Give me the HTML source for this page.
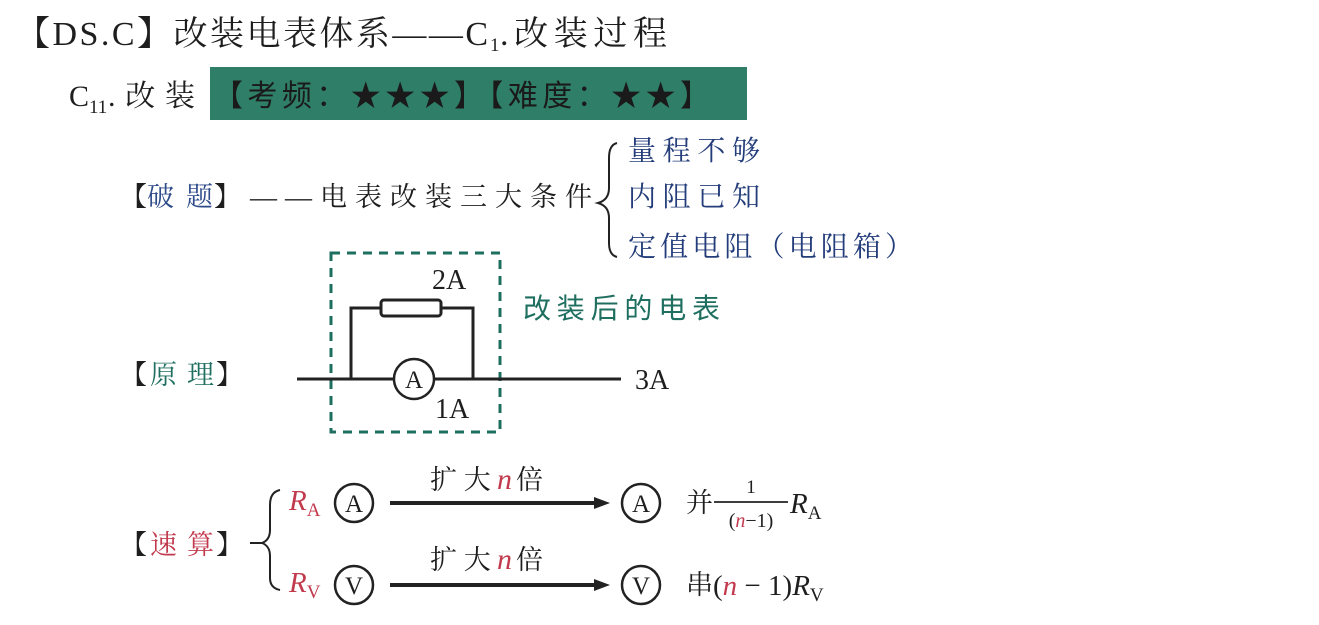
<!DOCTYPE html>
<html><head><meta charset="utf-8">
<style>
html,body{margin:0;padding:0;background:#fff;}
svg{display:block;}
text{font-family:"Liberation Serif","Noto Serif CJK SC","Noto Sans CJK SC",serif;}
.k{font-family:"Liberation Serif","Noto Sans CJK SC",sans-serif;}
</style></head><body>
<svg width="1319" height="625" viewBox="0 0 1319 625" xmlns="http://www.w3.org/2000/svg">
<rect width="1319" height="625" fill="#fff"/>
<g font-size="34" fill="#1e1e1e" class="k">
<text x="16" y="45" textLength="472" lengthAdjust="spacing">【DS.C】改装电表体系——C</text>
<text x="490" y="51" font-size="19">1</text>
<text x="500" y="45" textLength="167" lengthAdjust="spacing">.改装过程</text>
</g>
<g font-size="30" fill="#1e1e1e" class="k">
<text x="69" y="106">C</text>
<text x="89" y="113" font-size="19">11</text>
<text x="108" y="106" textLength="87" lengthAdjust="spacing">.改装</text>
</g>
<rect x="210" y="67" width="537" height="53" fill="#2f7f68"/>
<text x="213" y="106" font-size="30" fill="#1a1a1a" class="k" textLength="497" lengthAdjust="spacing">【考频：★★★】【难度：★★】</text>
<g font-size="27" class="k">
<text x="120" y="206" fill="#1e1e1e">【</text>
<text x="147" y="206" fill="#2d4a8a" textLength="66" lengthAdjust="spacing">破题</text>
<text x="214" y="206" fill="#1e1e1e">】</text>
<text x="250" y="206" fill="#1e1e1e" textLength="342" lengthAdjust="spacing">——电表改装三大条件</text>
</g>
<path d="M617 143 Q609 145 609 158 L609 188 Q609 200 598 203 Q609 206 609 218 L609 243 Q609 255 617 257" fill="none" stroke="#222" stroke-width="2"/>
<g font-size="28" fill="#233c7a" class="k">
<text x="628" y="160" textLength="132" lengthAdjust="spacing">量程不够</text>
<text x="628" y="206" textLength="132" lengthAdjust="spacing">内阻已知</text>
<text x="628" y="256" textLength="285" lengthAdjust="spacing">定值电阻（电阻箱）</text>
</g>
<g font-size="27" class="k">
<text x="120" y="384" fill="#1e1e1e">【</text>
<text x="150" y="384" fill="#1f6f60" textLength="64" lengthAdjust="spacing">原理</text>
<text x="216" y="384" fill="#1e1e1e">】</text>
</g>
<rect x="331" y="253" width="169" height="179" fill="none" stroke="#1f6f60" stroke-width="3" stroke-dasharray="9,7"/>
<g stroke="#222" stroke-width="3" fill="none">
<line x1="297" y1="379" x2="394" y2="379"/>
<line x1="434" y1="379" x2="621" y2="379"/>
<polyline points="351,379 351,308 381,308"/>
<polyline points="441,308 473,308 473,379"/>
<rect x="381" y="300" width="60" height="16" rx="3"/>
<circle cx="414" cy="379" r="20" stroke-width="2.5"/>
</g>
<g font-size="28" fill="#1e1e1e">
<text x="414" y="388" text-anchor="middle" font-size="25">A</text>
<text x="432" y="289">2A</text>
<text x="435" y="418">1A</text>
<text x="635" y="389">3A</text>
</g>
<text x="523" y="318" font-size="28" fill="#1f6f60" class="k" textLength="197" lengthAdjust="spacing">改装后的电表</text>
<g font-size="27" class="k">
<text x="120" y="554" fill="#1e1e1e">【</text>
<text x="150" y="554" fill="#c23a4e" textLength="64" lengthAdjust="spacing">速算</text>
<text x="216" y="554" fill="#1e1e1e">】</text>
</g>
<path d="M280 490 Q270 492 270 505 L270 530 Q270 540 262 543 Q270 546 270 556 L270 578 Q270 588 280 590 M250 543 L264 543" fill="none" stroke="#222" stroke-width="2"/>
<g fill="#c23a4e" font-style="italic">
<text x="289" y="510" font-size="29">R<tspan font-size="19" dy="6" font-style="normal">A</tspan></text>
<text x="289" y="592" font-size="29">R<tspan font-size="19" dy="6" font-style="normal">V</tspan></text>
</g>
<g stroke="#222" stroke-width="2.5" fill="none">
<circle cx="354" cy="503" r="19"/>
<circle cx="354" cy="585" r="19"/>
<circle cx="641" cy="503" r="19"/>
<circle cx="641" cy="585" r="19"/>
</g>
<g stroke="#222" stroke-width="4">
<line x1="390" y1="503" x2="598" y2="503"/>
<line x1="390" y1="585" x2="598" y2="585"/>
</g>
<polygon points="610,503 594,497 594,509" fill="#222"/>
<polygon points="610,585 594,579 594,591" fill="#222"/>
<g font-size="25" fill="#1e1e1e" text-anchor="middle">
<text x="354" y="512">A</text><text x="354" y="594">V</text>
<text x="641" y="512">A</text><text x="641" y="594">V</text>
</g>
<g font-size="27" fill="#1e1e1e" class="k">
<text x="430" y="489">扩 大</text>
<text x="497" y="489" fill="#c23a4e" font-style="italic" font-family="Liberation Serif" font-size="30">n</text>
<text x="516" y="489">倍</text>
<text x="430" y="569">扩 大</text>
<text x="497" y="569" fill="#c23a4e" font-style="italic" font-family="Liberation Serif" font-size="30">n</text>
<text x="516" y="569">倍</text>
<text x="686" y="512">并</text>
<text x="686" y="594">串</text>
</g>
<text x="751" y="493" font-size="19" fill="#1e1e1e" text-anchor="middle">1</text>
<line x1="714" y1="502" x2="788" y2="502" stroke="#222" stroke-width="1.8"/>
<text x="751" y="527" font-size="20" fill="#1e1e1e" text-anchor="middle">(<tspan fill="#c23a4e" font-style="italic">n</tspan>−1)</text>
<text x="790" y="513" font-size="29" fill="#1e1e1e" font-style="italic">R<tspan font-size="19" dy="6" font-style="normal">A</tspan></text>
<text x="713" y="595" font-size="29" fill="#1e1e1e">(<tspan fill="#c23a4e" font-style="italic">n</tspan> − 1)<tspan font-style="italic">R</tspan><tspan font-size="19" dy="6">V</tspan></text>
</svg>
</body></html>
